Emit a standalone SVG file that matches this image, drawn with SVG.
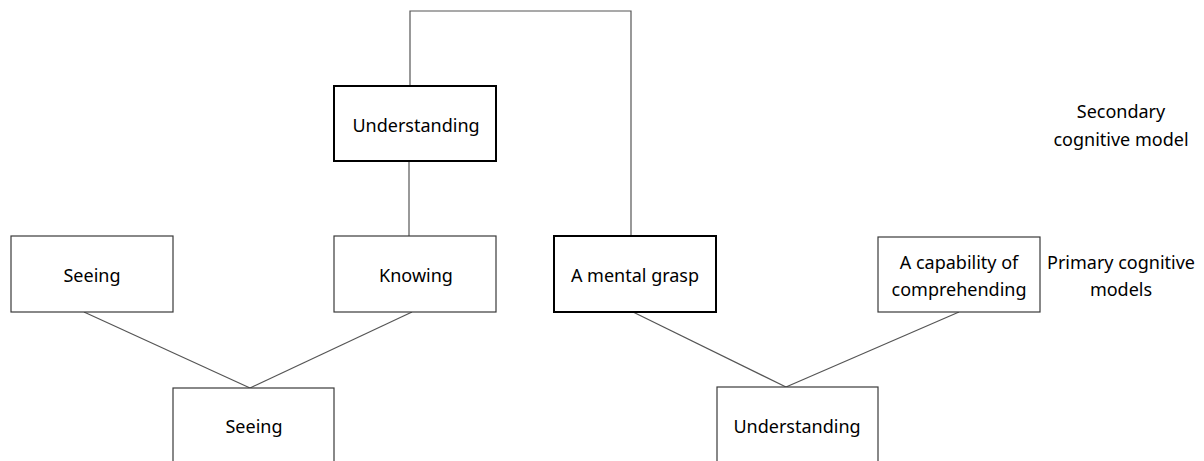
<svg xmlns="http://www.w3.org/2000/svg" width="1204" height="461" viewBox="0 0 1204 461">
<style>
.box{fill:#fff;stroke:#3a3a3a;stroke-width:1.2}
.bold{fill:#fff;stroke:#000;stroke-width:2}
.t{font-family:"Noto Sans","Open Sans",sans-serif;font-size:18px;fill:#000;text-anchor:middle;dominant-baseline:central}
.c{fill:none;stroke:#555;stroke-width:1.2}
</style>
<rect width="1204" height="461" fill="#fff"/>
<g id="connectors">
<polyline class="c" points="410,85 410,11 631,11 631,236"/>
<line class="c" x1="409" y1="161" x2="409" y2="236"/>
<line class="c" x1="84" y1="312" x2="250" y2="388"/>
<line class="c" x1="412" y1="312" x2="250" y2="388"/>
<line class="c" x1="633" y1="312" x2="786" y2="387"/>
<line class="c" x1="959" y1="312" x2="786" y2="387"/>
</g>
<g id="understanding-top"><rect class="bold" x="334" y="86" width="162" height="75"/><text class="t" x="416" y="125">Understanding</text></g>
<g id="seeing-top"><rect class="box" x="11" y="236" width="162" height="76"/><text class="t" x="92" y="275">Seeing</text></g>
<g id="knowing"><rect class="box" x="334" y="236" width="162" height="76"/><text class="t" x="416" y="275">Knowing</text></g>
<g id="mental-grasp"><rect class="bold" x="554" y="236" width="162" height="76"/><text class="t" x="635" y="275">A mental grasp</text></g>
<g id="capability"><rect class="box" x="878" y="237" width="162" height="75"/><text class="t" x="959" y="262">A capability of</text><text class="t" x="959" y="289">comprehending</text></g>
<g id="seeing-bottom"><rect class="box" x="173" y="388" width="161" height="80"/><text class="t" x="254" y="426">Seeing</text></g>
<g id="understanding-bottom"><rect class="box" x="717" y="387" width="161" height="80"/><text class="t" x="797" y="426">Understanding</text></g>
<g id="secondary-label"><text class="t" x="1121" y="111">Secondary</text><text class="t" x="1121" y="139">cognitive model</text></g>
<g id="primary-label"><text class="t" x="1121" y="262">Primary cognitive</text><text class="t" x="1121" y="289">models</text></g>
</svg>
